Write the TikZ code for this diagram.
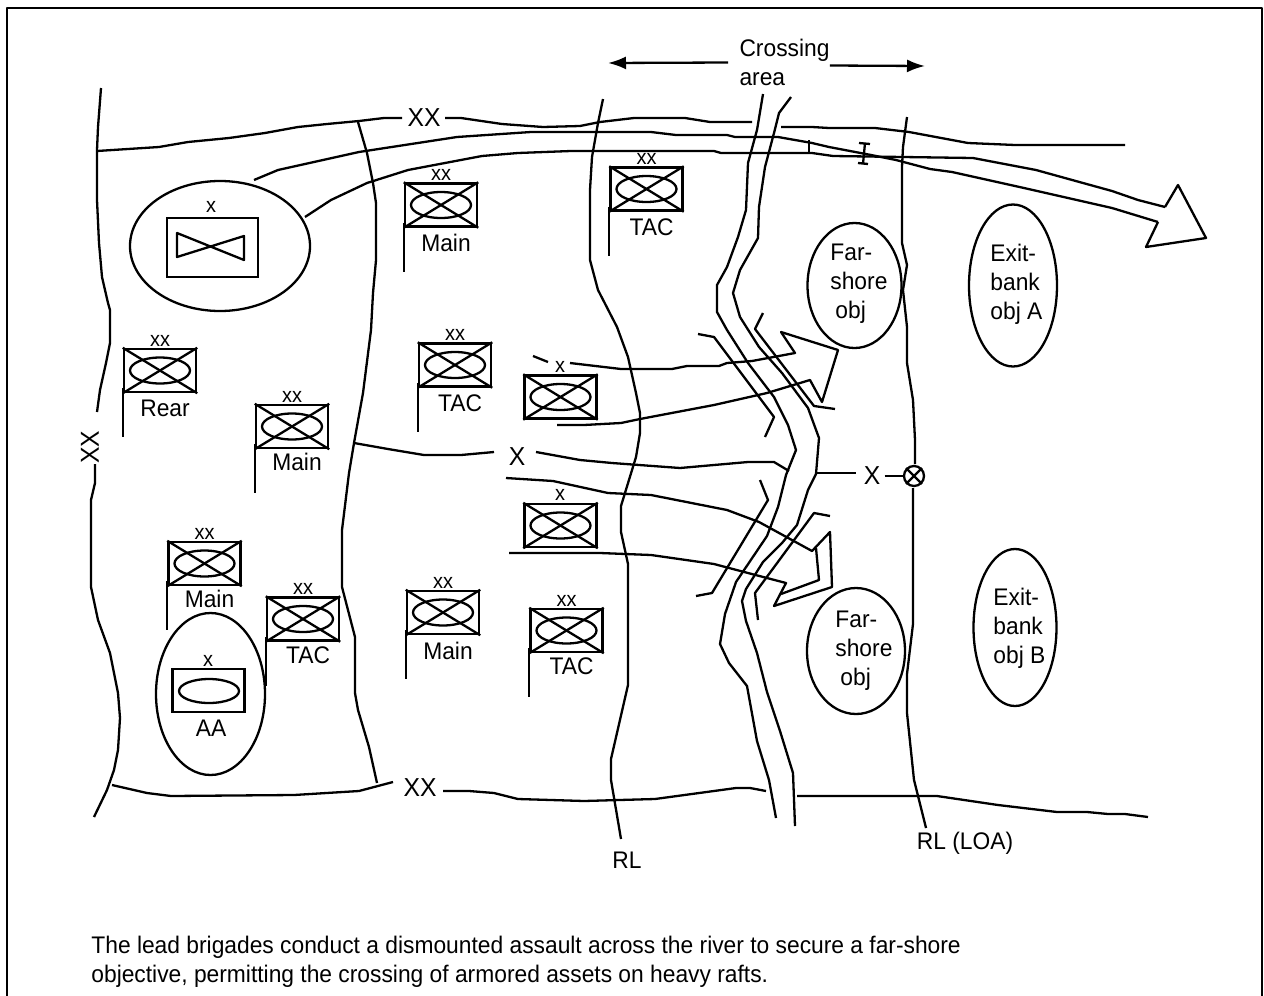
\documentclass[tikz,border=0pt]{standalone}
\usepackage{fontspec}
\setmainfont[FakeStretch=0.95]{Liberation Sans}
\usepackage{tikz}
\usetikzlibrary{arrows.meta,shapes,calc}
\newcommand{\hqunit}[6]{
  \node[unit] (#1) at (#2,#3) {};
  \draw[bound] (#1.north west) -- (#1.south east);
  \draw[bound] (#1.north east) -- (#1.south west);
  \node[oval] at (#1.center) {};
  \draw[bound] ($(#1.south west)+(0,-5)$) -- ++(0,49);
  \node[small] (#1e) [above of =#1, node distance=15pt] {#4};
  \node[lbl] (#1l) [below of =#1, xshift=2.5pt, node distance=#6] {#5};
}

\begin{document}
\begin{tikzpicture}[x=0.5pt, y=-0.5pt]
\tikzstyle{bound}=[line width=1.15pt, line join=round]
\tikzstyle{unit}=[rectangle, draw=black, line width=1.25pt, inner sep=0pt, minimum width=36pt, minimum height=21.5pt]
\tikzstyle{oval}=[ellipse, draw=black, line width=1.15pt, inner sep=0pt, minimum width=30pt, minimum height=13pt]
\tikzstyle{area}=[ellipse, draw=black, line width=1.15pt, inner sep=0pt]
\tikzstyle{lbl}=[inner sep=0pt, align=left, font=\fontsize{12}{14.5}\selectfont]
\tikzstyle{small}=[inner sep=0pt, font=\fontsize{10.5}{12}\selectfont]
\tikzstyle{big}=[inner sep=0pt, font=\fontsize{13}{14}\selectfont]
\tikzstyle{connect}=[-{Latex[length=9pt,width=6.5pt]}, line width=1.15pt]

  \useasboundingbox (0,0) rectangle (1264,996);
  \draw[bound] (7,996) -- (7,8) -- (1262,8) -- (1262,996);

  \node[big] (xxtop) at (424,118) {XX};
  \node[big] (xxbot) at (420,788) {XX};
  \node[big, rotate=90] (xxleft) at (90,447) {XX};
  \node[big] (xmidA) at (517,457) {X};
  \node[big] (xmidB) at (872,476) {X};

  \node[lbl] (crossing) at (784.5,62.5) {Crossing\\area};
  \coordinate (tipL) at (608,63);
  \coordinate (tipR) at (925,66);
  \draw[connect] ([xshift=-5.5pt]crossing.west) -- (tipL);
  \draw[connect] ([yshift=-1.5pt]crossing.east) -- (tipR);

  % division boundaries
  \draw[bound] (101,88) -- (98,127) -- (97,150) -- (97,200) -- (99,243) -- (102,277) -- (108,303) -- (110,310) -- (110,343) -- (106,363) -- (100,390) -- (97,412);
  \draw[bound] (95,464) -- (95,483) -- (91,500) -- (91,587) -- (98,620) -- (110,653) -- (118,693) -- (120,718) -- (118,750) -- (114,770) -- (107,790) -- (94,817);
  \draw[bound] (97,151) -- (159,147) -- (188,142) -- (229,138) -- (265,133) -- (298,127) -- (327,124) -- (359,121) -- (384,118) -- (402,118);
  \draw[bound] (445,118) -- (461,118) -- (502,124) -- (543,127) -- (580,126) -- (600,122) -- (634,118) -- (685,118) -- (710,122) -- (752,122);
  \draw[bound] (781,127) -- (812,127) -- (829,128) -- (875,128) -- (909,132) -- (968,143) -- (1015,145) -- (1125,145);
  \draw[bound] (112,785) -- (147,793) -- (171,796) -- (294,795) -- (359,791) -- (393,782);
  \draw[bound] (443,791) -- (469,791) -- (494,793) -- (518,799) -- (584,801) -- (655,799) -- (736,788) -- (750,788) -- (766,791);
  \draw[bound] (797,796) -- (937,796) -- (998,805) -- (1057,812) -- (1087,812) -- (1108,814) -- (1125,814) -- (1148,817);

  % brigade boundary
  \draw[bound] (358,122) -- (367,153) -- (373,183) -- (376,203) -- (376,260) -- (373,293) -- (371,330) -- (363,393) -- (354,443) -- (349,473) -- (342,530) -- (342,587) -- (355,637) -- (355,693) -- (358,710) -- (369,747) -- (377,783);
  \draw[bound] (354,443) -- (388,449) -- (424,455) -- (461,455) -- (494,452);
  \draw[bound] (536,452) -- (580,460) -- (612,463) -- (680,468) -- (748,462) -- (774,462) -- (789,471);
  \draw[bound] (816,473) -- (856,473);

  % release lines
  \draw[bound] (603,99) -- (598,123) -- (592,157) -- (590,190) -- (590,260) -- (598,290) -- (617,327) -- (628,357) -- (636,393) -- (640,413) -- (640,433) -- (636,457) -- (621,506) -- (621,532) -- (628,564) -- (628,685) -- (611,759) -- (611,780) -- (621,839);
  \draw[bound] (907,117) -- (903,147) -- (902,167) -- (902,243) -- (907,265) -- (903,290) -- (907,327) -- (907,363) -- (913,400) -- (915,440) -- (915,464);
  \draw[bound] (913,488) -- (913,624) -- (907,674) -- (907,713) -- (914,780) -- (926,828);
  \node[circle, draw=black, line width=1.15pt, inner sep=0pt, minimum size=10pt] (lp) at (914,476) {};
  \draw[bound] (lp.45) -- (lp.225);
  \draw[bound] (lp.135) -- (lp.315);
  \draw[bound] (xmidB.east) ++(4,0) -- (lp.west);
  \node[lbl] (rl) at (627,860) {RL};
  \node[lbl] (loa) at (965,843) {RL (LOA)};

  % river
  \draw[bound] (763,94) -- (757,130) -- (748,163) -- (746,210) -- (738,237) -- (727,267) -- (717,285) -- (717,312) -- (727,330) -- (748,363) -- (774,397) -- (788,425) -- (796,450) -- (786,475) -- (778,507) -- (767,536) -- (736,582) -- (725,614) -- (720,644) -- (729,663) -- (747,686) -- (757,741) -- (769,780) -- (776,818);
  \draw[bound] (791,97) -- (779,113) -- (774,133) -- (765,167) -- (759,207) -- (758,238) -- (740,270) -- (733,293) -- (740,317) -- (759,347) -- (782,373) -- (808,408) -- (819,438) -- (816,474) -- (808,490) -- (797,525) -- (782,543) -- (763,562) -- (746,589) -- (742,601) -- (746,621) -- (757,653) -- (767,692) -- (780,731) -- (793,773) -- (795,826);

  % bridgehead brackets
  \draw[bound] (698,334) -- (714,337) -- (774,417) -- (765,437);
  \draw[bound] (763,313) -- (755,329) -- (814,406) -- (835,409);
  \draw[bound] (760,480) -- (768,500) -- (712,593) -- (696,596);
  \draw[bound] (830,516) -- (814,513) -- (755,593) -- (758,620);

  % armor axis
  \draw[bound] (254,180) -- (278,170) -- (359,152) -- (457,137) -- (531,132) -- (651,132) -- (676,135) -- (727,135) -- (735,137) -- (778,137) -- (812,143) -- (829,147) -- (871,155) -- (896,160) -- (930,169) -- (952,172) -- (1024,188) -- (1112,208) -- (1158,222);
  \draw[bound] (305,217) -- (331,200) -- (367,183) -- (408,170) -- (482,156) -- (518,153) -- (571,151) -- (714,151) -- (721,153) -- (812,153) -- (833,156) -- (973,158) -- (1036,170) -- (1083,183) -- (1112,191) -- (1138,200) -- (1165,207);
  \draw[bound] (1158,222) -- (1146,247) -- (1206,238) -- (1178,185) -- (1165,207);
  \draw[bound] (809,140) -- (809,153);
  \draw[bound] (859,143) -- (870,144);
  \draw[bound] (865,143) -- (863,164);
  \draw[bound] (858,163) -- (868,164);

  % assault axes
  \draw[bound] (533,356) -- (548,362);
  \draw[bound] (570,363) -- (621,369) -- (672,369) -- (687,366) -- (719,366) -- (727,363) -- (752,361) -- (795,353) -- (781,332) -- (838,350) -- (822,402) -- (810,380) -- (767,393) -- (714,405) -- (640,419) -- (621,423) -- (584,425) -- (557,425);
  \draw[bound] (506,478) -- (553,481) -- (608,493) -- (651,495) -- (727,510) -- (759,522) -- (812,551) -- (830,532) -- (832,587) -- (774,606) -- (786,583) -- (748,573) -- (714,564) -- (651,555) -- (600,553) -- (509,553);
  \draw[bound] (816,548) -- (819,580) -- (781,594);

  % assembly areas
  \node[area, minimum width=90pt, minimum height=65pt] (armorarea) at (220,246) {};
  \node[unit, minimum width=45.5pt, minimum height=29.5pt] (armor) at (212.5,247.5) {};
  \draw[bound] (177,233) -- (244,260) -- (244,236) -- (177,257) -- cycle;
  \node[small] (armore) at (211,207) {x};

  \node[area, minimum width=54.5pt, minimum height=81pt] (aaarea) at (210.5,694) {};
  \node[unit] (aa) at (208.5,690.5) {};
  \node[ellipse, draw=black, line width=1.15pt, inner sep=0pt, minimum width=30pt, minimum height=12pt] (aaoval) at (209,691) {};
  \node[small] (aae) at (208,661) {x};
  \node[lbl] (aal) at (211,728) {AA};

  % command posts
  \hqunit{mainA}{441}{205}{xx}{Main}{19pt}
  \hqunit{tacA}{646.5}{189}{xx}{TAC}{19pt}
  \hqunit{rear}{160}{370.5}{xx}{Rear}{19pt}
  \hqunit{mainB}{292}{426.5}{xx}{Main}{17.5pt}
  \hqunit{tacB}{455}{365}{xx}{TAC}{19pt}
  \hqunit{mainC}{204.5}{563.5}{xx}{Main}{17.5pt}
  \hqunit{tacC}{303}{619}{xx}{TAC}{18pt}
  \hqunit{mainD}{443}{612.5}{xx}{Main}{19pt}
  \hqunit{tacD}{566.5}{630.5}{xx}{TAC}{18pt}

  \node[unit] (bdeA) at (560.5,397) {};
  \draw[bound] (bdeA.north west) -- (bdeA.south east);
  \draw[bound] (bdeA.north east) -- (bdeA.south west);
  \node[oval] at (bdeA.center) {};
  \node[small] (bdeAe) at (560,367) {x};

  \node[unit] (bdeB) at (560.5,525.5) {};
  \draw[bound] (bdeB.north west) -- (bdeB.south east);
  \draw[bound] (bdeB.north east) -- (bdeB.south west);
  \node[oval] at (bdeB.center) {};
  \node[small] (bdeBe) at (560,495) {x};

  % objectives
  \node[area, minimum width=47pt, minimum height=62.5pt] (farA) at (854.5,285.5) {};
  \node[lbl, anchor=west] (farAt) at (830,284) {Far-\\shore\\\hspace*{2.5pt}obj};
  \node[area, minimum width=44pt, minimum height=81pt] (exitA) at (1013,285.5) {};
  \node[lbl, anchor=west] (exitAt) at (990,284) {Exit-\\bank\\obj A};
  \node[area, minimum width=49pt, minimum height=63pt] (farB) at (856,651) {};
  \node[lbl, anchor=west] (farBt) at (835,651) {Far-\\shore\\\hspace*{2.5pt}obj};
  \node[area, minimum width=41.5pt, minimum height=78.5pt] (exitB) at (1015,627.5) {};
  \node[lbl, anchor=west] (exitBt) at (993,628) {Exit-\\bank\\obj B};

  \node[lbl, anchor=west] (caption) at (91,962) {The lead brigades conduct a dismounted assault across the river to secure a far-shore\\objective, permitting the crossing of armored assets on heavy rafts.};

\end{tikzpicture}
\end{document}
